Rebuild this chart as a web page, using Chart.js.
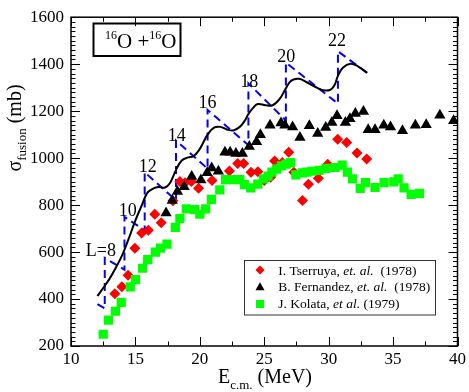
<!DOCTYPE html>
<html><head><meta charset="utf-8">
<script src="https://cdn.jsdelivr.net/npm/chart.js@4.4.0/dist/chart.umd.min.js"></script>
<style>html,body{margin:0;padding:0;background:#fff;}canvas{display:block;}</style>
</head><body>
<canvas id="c" width="469" height="392"></canvas>
<script>
// ---- data (E_cm in MeV, sigma_fusion in mb) ----
const tserruyaE = [13.4,13.95,14.43,14.96,15.48,16.0,16.5,17.0,17.91,18.45,18.85,19.35,19.9,20.95,22.3,22.94,23.4,23.97,24.5,25.0,25.5,25.8,26.4,26.9,27.3,27.97,28.43,29.2,29.93,30.7,31.4,32.2,32.95];
const tserruyaS = [422,452,501,616,681,693,761,725,818,900,895,900,872,905,945,977,977,940,942,905,919,988,981,1025,940,819,889,914,974,1080,1066,1022,996];

const fernandezE = [17.38,17.86,18.26,18.78,19.37,20.08,20.57,20.92,21.44,21.95,22.35,22.8,23.3,23.84,24.4,24.7,25.45,26.3,26.6,27.2,27.77,28.5,29.15,29.77,30.25,30.65,31.3,31.65,32.07,32.7,33.07,33.6,34.28,34.8,35.73,36.73,37.57,38.63,39.7];
const fernandezS = [766,820,858,878,922,907,938,958,944,1025,1025,1020,1020,1049,1070,1100,1140,1150,1140,1133,1088,1138,1105,1130,1152,1180,1152,1168,1190,1198,1121,1121,1140,1132,1117,1140,1142,1182,1159];

const kolataE = [12.5,12.9,13.45,13.9,14.6,15.0,15.55,15.95,16.55,16.95,17.45,18.1,18.45,18.95,19.6,20.0,20.45,20.9,21.55,22.0,22.55,23.1,23.45,23.95,24.5,24.95,25.3,25.6,25.95,26.35,26.7,27.05,27.45,27.95,28.3,28.7,29.25,29.8,30.5,31.05,31.45,31.85,32.45,32.85,33.6,34.3,35.05,35.4,35.85,36.4,37.05];
const kolataS = [250,310,348,386,452,483,531,568,600,617,634,705,743,784,781,761,784,824,865,908,908,908,887,873,889,912,923,940,953,967,974,981,929,937,940,944,948,956,960,970,940,912,871,896,875,896,899,912,873,846,850];

const theoryE = [12.05,12.5,13.0,13.5,14.0,14.5,15.0,15.5,15.9,16.3,16.75,17.3,17.7,18.15,18.6,19.1,19.5,19.95,20.3,20.6,21.1,21.6,22.1,22.6,23.1,23.5,23.77,24.1,24.5,25.1,25.65,26.2,26.68,27.1,27.7,28.3,28.9,29.5,30.1,30.45,30.72,31.1,31.7,32.3,33.0];
const theoryS = [413,447,487,535,590,660,735,800,850,868,877,875,895,950,990,1003,1008,1035,1070,1100,1130,1133,1122,1118,1133,1160,1188,1212,1230,1225,1225,1252,1297,1330,1338,1323,1305,1290,1290,1310,1350,1385,1402,1390,1363];

const cutoffE = [12.05,12.62,12.62,14.15,14.15,15.72,15.72,18.15,18.15,20.6,20.6,23.77,23.77,26.68,26.68,30.72,30.72,33.0];
const cutoffS = [378,360,575,525,750,692,940,820,1075,955,1205,1055,1318,1160,1407,1232,1455,1362];

const waveLabels = ['L=8','10','12','14','16','18','20','22'];
const waveLabelE = [12.32,14.41,15.95,18.2,20.6,23.84,26.7,30.65];
const waveLabelS = [604,773,963,1095,1235,1322,1429,1499];

const xTicks = [10,15,20,25,30,35,40];
const yTicks = [200,400,600,800,1000,1200,1400,1600];

const legendNames = [
  ['I. Tserruya, ', 'et. al.', '  (1978)'],
  ['B. Fernandez, ', 'et. al.', '  (1978)'],
  ['J. Kolata, ', 'et al.', ' (1979)']
];

// ---- helpers ----
const SERIF = 'Liberation Serif';
Chart.defaults.font.family = SERIF;
Chart.defaults.color = '#000';
const pts = (xs, ys) => xs.map((e, i) => ({x: e, y: ys[i]}));

function runsWidth(ctx, runs) {
  let w = 0;
  for (const r of runs) { ctx.font = (r.it ? 'italic ' : '') + r.sz + 'px ' + SERIF; w += ctx.measureText(r.t).width; }
  return w;
}
function drawRuns(ctx, runs, x, y) {
  let cx = x;
  for (const r of runs) {
    ctx.font = (r.it ? 'italic ' : '') + r.sz + 'px ' + SERIF;
    ctx.fillText(r.t, cx, y + (r.dy || 0));
    cx += ctx.measureText(r.t).width;
  }
  return cx;
}

const framePlugin = {
  id: 'frame',
  afterDatasetsDraw(chart) {
    const {ctx, chartArea: a, scales: {x, y}} = chart;
    ctx.save();
    ctx.strokeStyle = '#000';
    ctx.lineWidth = 1;
    ctx.beginPath();
    for (let i = 0; i <= 12; i++) {
      const v = 10 + i * 2.5;
      const px = Math.round(x.getPixelForValue(v)) + 0.5;
      const L = (i % 2 === 0) ? 9 : 4.5;
      ctx.moveTo(px, a.bottom); ctx.lineTo(px, a.bottom - L);
      ctx.moveTo(px, a.top); ctx.lineTo(px, a.top + L);
    }
    for (let i = 0; i <= 70; i++) {
      const v = 200 + i * 20;
      const py = Math.round(y.getPixelForValue(v)) + 0.5;
      const L = (i % 10 === 0) ? 9 : 4.5;
      ctx.moveTo(a.left, py); ctx.lineTo(a.left + L, py);
      ctx.moveTo(a.right, py); ctx.lineTo(a.right - L, py);
    }
    ctx.stroke();
    ctx.lineWidth = 1.5;
    ctx.strokeRect(a.left, a.top, a.right - a.left, a.bottom - a.top);
    ctx.restore();
  },
  afterDraw(chart) {
    const {ctx, scales: {x, y}} = chart;
    ctx.save();
    ctx.fillStyle = '#000';
    // wave labels
    ctx.textAlign = 'center';
    ctx.textBaseline = 'middle';
    ctx.font = '18px ' + SERIF;
    waveLabels.forEach((t, i) => {
      ctx.fillText(t, x.getPixelForValue(waveLabelE[i]), y.getPixelForValue(waveLabelS[i]));
    });
    ctx.textAlign = 'left';
    ctx.textBaseline = 'alphabetic';

    // reaction box
    ctx.lineWidth = 2;
    ctx.strokeStyle = '#000';
    ctx.strokeRect(93.5, 23.5, 87, 32.5);
    drawRuns(ctx, [
      {t: '16', sz: 12, dy: -9}, {t: 'O', sz: 21}, {t: ' +', sz: 21},
      {t: '16', sz: 12, dy: -9}, {t: 'O', sz: 21}
    ], 105, 48);

    // legend box
    ctx.lineWidth = 1;
    ctx.strokeStyle = '#333';
    ctx.strokeRect(244.5, 260.5, 191, 54.5);
    const rowsY = [274.5, 291.3, 308.2];
    const mk = [[260, 270], [260, 286.7], [260, 304]];
    ctx.fillStyle = '#ff0000';
    ctx.beginPath();
    ctx.moveTo(mk[0][0], mk[0][1] - 4.5); ctx.lineTo(mk[0][0] + 4.5, mk[0][1]);
    ctx.lineTo(mk[0][0], mk[0][1] + 4.5); ctx.lineTo(mk[0][0] - 4.5, mk[0][1]);
    ctx.closePath(); ctx.fill();
    ctx.fillStyle = '#000';
    ctx.beginPath();
    ctx.moveTo(mk[1][0], mk[1][1] - 4.5); ctx.lineTo(mk[1][0] + 4.5, mk[1][1] + 3.5);
    ctx.lineTo(mk[1][0] - 4.5, mk[1][1] + 3.5); ctx.closePath(); ctx.fill();
    ctx.fillStyle = '#00ff00';
    ctx.fillRect(mk[2][0] - 4, mk[2][1] - 4, 8, 8);
    ctx.fillStyle = '#000';
    legendNames.forEach((n, i) => {
      drawRuns(ctx, [{t: n[0], sz: 13.5}, {t: n[1], sz: 13.5, it: true}, {t: n[2], sz: 13.5}], 278.3, rowsY[i]);
    });

    // x title
    const xr = [{t: 'E', sz: 20}, {t: 'c.m.', sz: 13, dy: 6}, {t: ' (MeV)', sz: 20}];
    drawRuns(ctx, xr, 265 - runsWidth(ctx, xr) / 2, 383);

    // y title
    const yr = [{t: '\u03C3', sz: 20}, {t: 'fusion', sz: 13, dy: 5}, {t: ' (mb)', sz: 20}];
    ctx.translate(21, 128);
    ctx.rotate(-Math.PI / 2);
    drawRuns(ctx, yr, -runsWidth(ctx, yr) / 2, 0);
    ctx.restore();
  }
};

const tickFont = {family: SERIF, size: 17};

new Chart(document.getElementById('c'), {
  type: 'scatter',
  data: {
    datasets: [
      {label: 'J. Kolata, et al. (1979)', data: pts(kolataE, kolataS), pointStyle: 'rect', pointRadius: 6.5,
       backgroundColor: '#00ff00', borderWidth: 0, order: 0},
      {label: 'B. Fernandez, et. al. (1978)', data: pts(fernandezE, fernandezS), pointStyle: 'triangle', pointRadius: 6.5,
       backgroundColor: '#000000', borderWidth: 0, order: 1},
      {label: 'I. Tserruya, et. al. (1978)', data: pts(tserruyaE, tserruyaS), pointStyle: 'rectRot', pointRadius: 5.5,
       backgroundColor: '#ff0000', borderWidth: 0, order: 2},
      {label: 'theory', data: pts(theoryE, theoryS), showLine: true, pointRadius: 0, borderColor: '#000000',
       borderWidth: 2, tension: 0.4, fill: false, order: 3},
      {label: 'sharp cutoff', data: pts(cutoffE, cutoffS), showLine: true, pointRadius: 0, borderColor: '#0000ff',
       borderWidth: 2, borderDash: [8, 5], tension: 0, fill: false, order: 4}
    ]
  },
  options: {
    responsive: false, animation: false, devicePixelRatio: 1,
    layout: {padding: {top: 6, right: 10, left: 0, bottom: 0}},
    plugins: {legend: {display: false}, tooltip: {enabled: false}},
    scales: {
      x: {
        type: 'linear', min: 10, max: 40,
        afterBuildTicks(s) { s.ticks = xTicks.map(v => ({value: v})); },
        ticks: {color: '#000', font: tickFont, padding: 3, maxRotation: 0, autoSkip: false,
                callback: v => String(v)},
        grid: {display: false, drawTicks: false}, border: {display: false},
        afterFit(s) { s.height = 46; }
      },
      y: {
        type: 'linear', min: 200, max: 1600,
        afterBuildTicks(s) { s.ticks = yTicks.map(v => ({value: v})); },
        ticks: {color: '#000', font: tickFont, padding: 7, autoSkip: false,
                callback: v => String(v)},
        grid: {display: false, drawTicks: false}, border: {display: false},
        afterFit(s) { s.width = 71; }
      }
    }
  },
  plugins: [framePlugin]
});
</script>
</body></html>
